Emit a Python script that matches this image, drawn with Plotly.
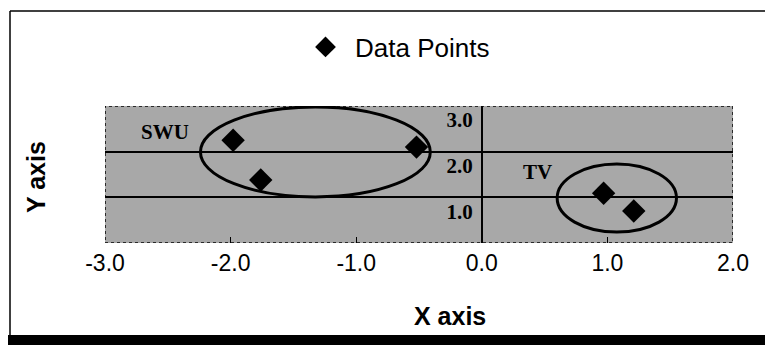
import plotly.graph_objects as go

# ---- data ----
x_values = [-1.98, -1.76, -0.52, 0.97, 1.21]
y_values = [2.25, 1.38, 2.10, 1.09, 0.70]
series_name = "Data Points"

x_ticks = [-3, -2, -1, 0, 1, 2]
x_tick_labels = ["-3.0", "-2.0", "-1.0", "0.0", "1.0", "2.0"]
y_ticks = [1, 2, 3]
y_tick_labels = ["1.0", "2.0", "3.0"]

group_names = ["SWU", "TV"]
group_label_x = [-2.52, 0.44]
group_label_y = [2.43, 1.55]
ellipse_x0 = [-2.24, 0.60]
ellipse_x1 = [-0.41, 1.55]
ellipse_y0 = [1.01, 0.24]
ellipse_y1 = [2.98, 1.73]

x_range = [-3, 2]
y_range = [0, 3]

# ---- layout helpers ----
OFF = 8  # page body margin
W, H = 773 - OFF, 345 - OFF
ML, MT = 105 - OFF, 106 - OFF
MR, MB = 773 - 733, 345 - 243
PW, PH = 773 - 105 - MR, 345 - 106 - MB


def px2paper_x(px):
    # px in reference window coordinates
    return (px - 105) / PW


def px2paper_y(py):
    return (243 - py) / PH


fig = go.Figure()
fig.add_trace(go.Scatter(
    x=x_values, y=y_values, mode="markers", name=series_name,
    marker=dict(symbol="diamond", size=18, color="black"),
    showlegend=True,
))

shapes = []
shapes.append(dict(type="rect", xref="x", yref="y", x0=x_range[0], x1=x_range[1],
                   y0=y_range[0], y1=y_range[1], line=dict(color="black", width=1.5, dash="dot"),
                   layer="above"))
for i in range(len(group_names)):
    shapes.append(dict(type="circle", xref="x", yref="y",
                       x0=ellipse_x0[i], x1=ellipse_x1[i], y0=ellipse_y0[i], y1=ellipse_y1[i],
                       line=dict(color="black", width=3), layer="above"))
# figure frame
shapes.append(dict(type="line", xref="paper", yref="paper",
                   x0=px2paper_x(10), x1=px2paper_x(790), y0=px2paper_y(11), y1=px2paper_y(11),
                   line=dict(color="black", width=1.5)))
shapes.append(dict(type="line", xref="paper", yref="paper",
                   x0=px2paper_x(10), x1=px2paper_x(10), y0=px2paper_y(11), y1=px2paper_y(336),
                   line=dict(color="black", width=1.5)))
shapes.append(dict(type="rect", xref="paper", yref="paper",
                   x0=px2paper_x(0), x1=px2paper_x(790), y0=px2paper_y(335), y1=px2paper_y(360),
                   fillcolor="black", line=dict(width=0)))

annotations = []
for i in range(len(group_names)):
    annotations.append(dict(x=group_label_x[i], y=group_label_y[i], xref="x", yref="y",
                            xanchor="center", yanchor="middle",
                            text="<b>" + group_names[i] + "</b>", showarrow=False,
                            font=dict(family="Liberation Serif", size=21, color="black")))
annotations.append(dict(x=px2paper_x(450), y=px2paper_y(316), xref="paper", yref="paper",
                        xanchor="center", yanchor="middle",
                        text="<b>X axis</b>", showarrow=False,
                        font=dict(family="Liberation Sans", size=25, color="black")))
annotations.append(dict(x=px2paper_x(36), y=px2paper_y(177), xref="paper", yref="paper",
                        xanchor="center", yanchor="middle",
                        text="<b>Y axis</b>", showarrow=False, textangle=-90,
                        font=dict(family="Liberation Sans", size=25, color="black")))

fig.update_layout(
    width=W, height=H,
    margin=dict(l=ML, r=MR, t=MT, b=MB, pad=0),
    paper_bgcolor="white",
    plot_bgcolor="#a8a8a8",
    shapes=shapes,
    annotations=annotations,
    legend=dict(x=px2paper_x(296), y=px2paper_y(47), xanchor="left", yanchor="middle",
                bgcolor="rgba(0,0,0,0)", itemwidth=49,
                font=dict(family="Liberation Sans", size=26, color="black")),
    xaxis=dict(range=x_range, tickvals=x_ticks, ticktext=x_tick_labels,
               showgrid=False, zeroline=False, showline=False,
               ticks="inside", ticklen=6, tickcolor="black", tickwidth=1,
               ticklabelstandoff=4,
               tickfont=dict(family="Liberation Sans", size=23, color="black")),
    yaxis=dict(range=y_range, tickvals=y_ticks, ticktext=y_tick_labels,
               anchor="free", position=(0 - x_range[0]) / (x_range[1] - x_range[0]),
               showgrid=True, gridcolor="black", gridwidth=1.5,
               zeroline=False, showline=True, linecolor="black", linewidth=1.5,
               ticks="", ticklabelshift=14, ticklabelstandoff=4,
               tickfont=dict(family="Liberation Serif", size=21, color="black",
                             weight="bold")),
)

fig.write_html("out.html")
